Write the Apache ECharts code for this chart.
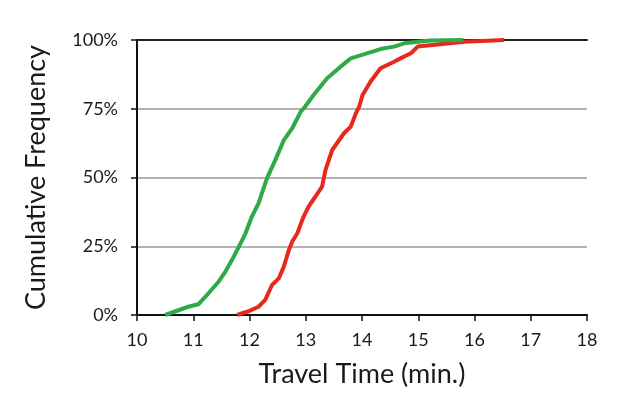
<!DOCTYPE html>
<html>
<head>
<meta charset="utf-8">
<script src="https://cdn.jsdelivr.net/npm/echarts@6/dist/echarts.min.js"></script>
<style>html,body{margin:0;padding:0;background:#fff}#c{width:640px;height:398px}</style>
</head>
<body>
<div id="c"></div>
<script>
var greenTime = [10.50,10.91,11.09,11.27,11.45,11.57,11.72,11.81,11.93,12.04,12.16,12.31,12.34,12.46,12.61,12.76,12.91,12.99,13.14,13.38,13.62,13.80,14.03,14.33,14.57,14.75,15.00,15.22,15.80];
var greenFreq = [0,3,3.9,7.9,12.1,15.7,21.2,24.8,29.7,35.7,40.6,49.7,50.3,56.4,63.6,67.9,73.9,75.8,80,86.1,90.3,93.3,94.8,96.7,97.6,98.8,99.4,99.8,100];
var redTime = [11.78,12.00,12.16,12.28,12.40,12.52,12.61,12.70,12.76,12.85,12.96,13.05,13.17,13.29,13.35,13.47,13.68,13.80,13.89,13.95,14.01,14.15,14.33,14.57,14.70,14.87,14.99,15.34,15.82,16.53];
var redFreq = [0,1.5,3,5.5,10.9,13.3,17.6,23.6,26.7,29.7,35.7,39.4,43,46.7,52.7,60,66.1,68.5,73.3,75.8,80,84.8,89.7,92.1,93.5,95.2,97.6,98.4,99.4,100];
var xTicks = [10,11,12,13,14,15,16,17,18];
var yTicks = [0,25,50,75,100];

function pairs(a,b){return a.map(function(v,i){return [v,b[i]];});}
var font = 'Lato';
var chart = echarts.init(document.getElementById('c'), null, {renderer:'canvas'});
chart.setOption({
  animation:false,
  backgroundColor:'#fff',
  grid:{left:137,right:53,top:40,bottom:83,containLabel:false},
  xAxis:[{
    type:'value', min:xTicks[0], max:xTicks[xTicks.length-1], interval:1,
    name:'Travel Time (min.)', nameLocation:'middle', nameGap:46,
    nameTextStyle:{fontFamily:font,fontSize:27,color:'#1a1a1a'},
    axisLine:{show:true,lineStyle:{color:'#111',width:2}},
    axisTick:{show:true,length:6,lineStyle:{color:'#111',width:1.5}},
    axisLabel:{fontFamily:font,fontSize:18,color:'#1a1a1a',margin:16},
    splitLine:{show:false}
  },{
    type:'value', position:'top', min:10, max:18,
    axisLine:{show:true,lineStyle:{color:'#222',width:2}},
    axisTick:{show:false}, axisLabel:{show:false}, splitLine:{show:false}
  }],
  yAxis:{
    type:'value', min:yTicks[0], max:yTicks[yTicks.length-1], interval:25,
    name:'Cumulative Frequency', nameLocation:'middle', nameGap:87, nameRotate:90,
    nameTextStyle:{fontFamily:font,fontSize:27,color:'#1a1a1a'},
    axisLine:{show:true,lineStyle:{color:'#111',width:2}},
    axisTick:{show:true,length:6,lineStyle:{color:'#111',width:1.5}},
    axisLabel:{fontFamily:font,fontSize:18,color:'#1a1a1a',margin:19,formatter:'{value}%'},
    splitLine:{show:true,lineStyle:{color:'#9a9a9a',width:1.5}}
  },
  series:[
    {type:'line',data:pairs(redTime,redFreq),showSymbol:false,symbol:'none',
     lineStyle:{color:'#e5291d',width:4},z:2},
    {type:'line',data:pairs(greenTime,greenFreq),showSymbol:false,symbol:'none',
     lineStyle:{color:'#2eaa48',width:4},z:3}
  ]
});
</script>
</body>
</html>
